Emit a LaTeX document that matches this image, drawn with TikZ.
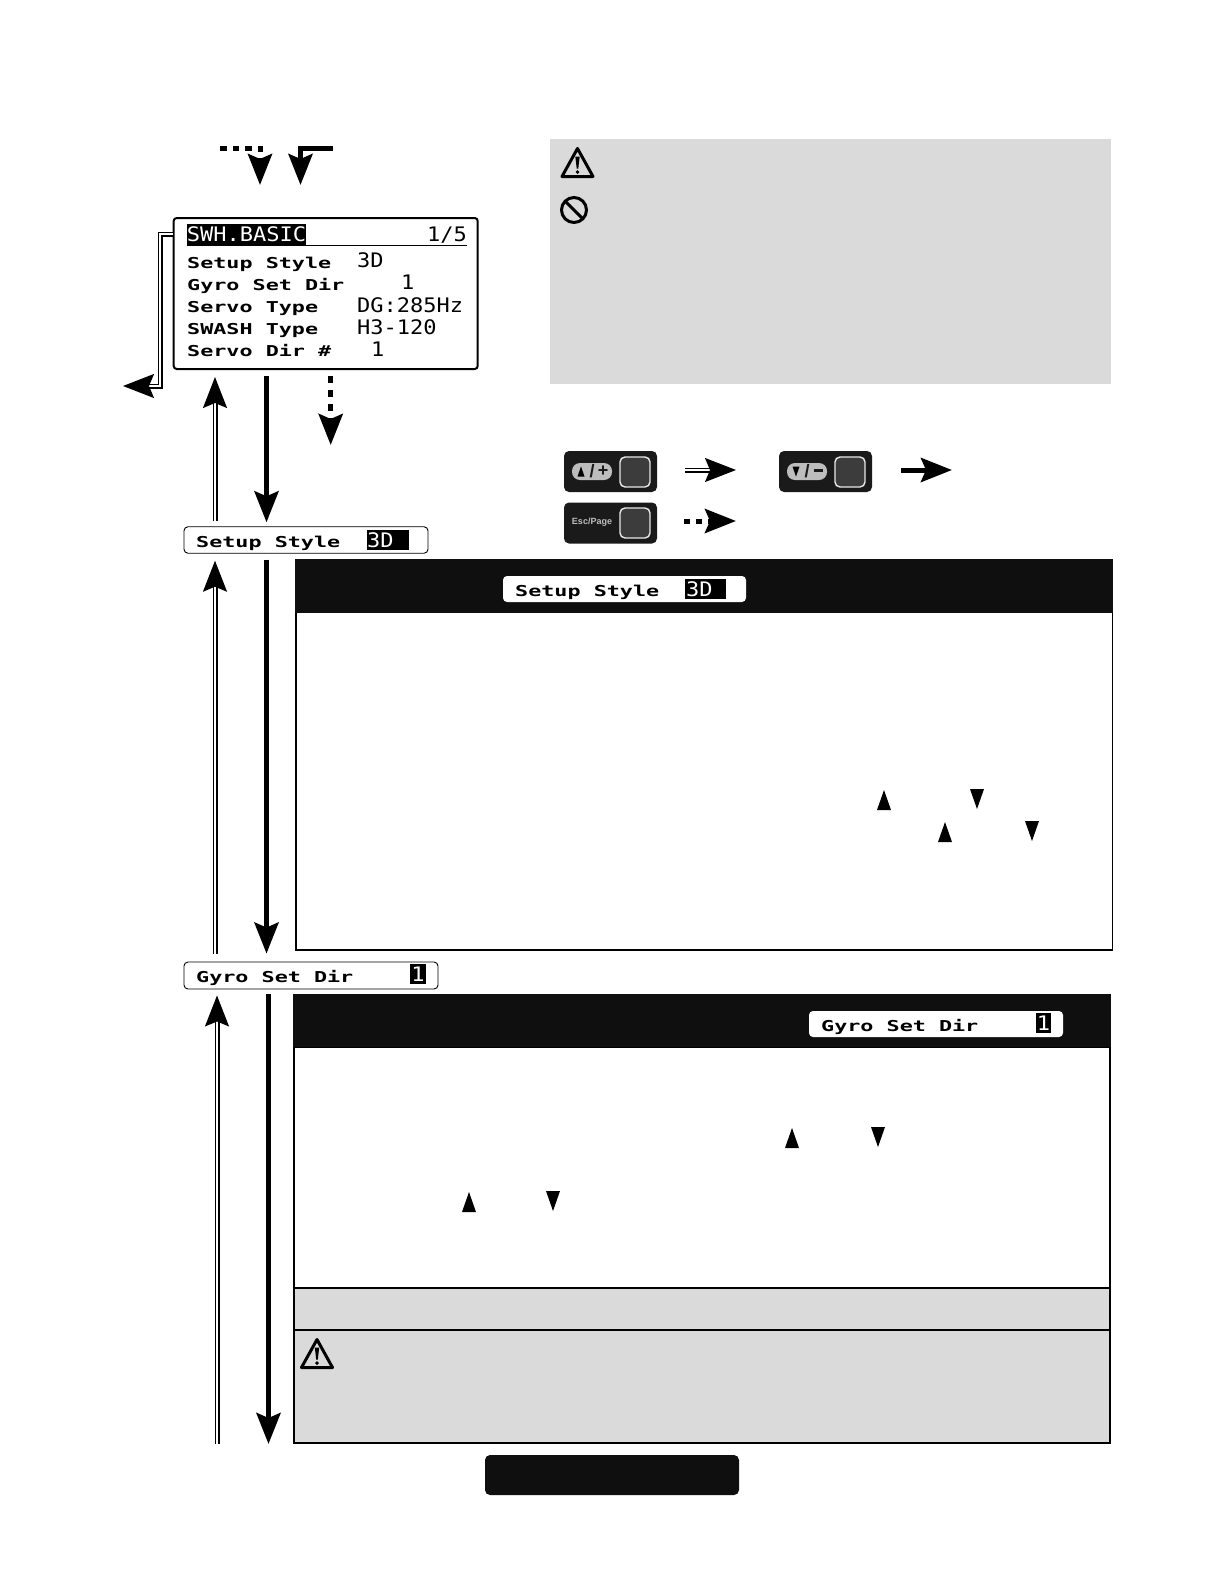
\documentclass[tikz,border=0pt]{standalone}
\usepackage{fontspec}
\usepackage{graphicx}
\setmainfont{Liberation Sans}
\newfontfamily\lcdfont{DejaVu Sans Mono}
\usetikzlibrary{positioning, arrows.meta}

\definecolor{panelblack}{HTML}{0F0F0F}
\definecolor{panelgray}{HTML}{DADADA}
\definecolor{keybody}{HTML}{1A1A1A}
\definecolor{keyface}{HTML}{3C3C3C}
\definecolor{keyedge}{HTML}{E8E8E8}
\definecolor{keypill}{HTML}{BDBDBD}

\newcommand{\lcdlabel}[1]{\scalebox{1.45}[1]{\lcdfont\bfseries\fontsize{15}{15}\selectfont #1}}
\newcommand{\lcdvalue}[1]{\scalebox{1.1}[1]{\lcdfont\fontsize{20}{20}\selectfont #1}}

\tikzset{
	>={Stealth[length=31pt,width=24pt,inset=5pt]},
	solidflow/.style={->, line width=5pt},
	doubleflow/.style={->, double, double distance=1.8pt, line width=1.6pt},
	dashflow/.style={->, line width=5pt, dash pattern=on 6.5pt off 7.5pt},
	lcdbox/.style={draw=black, fill=white, rounded corners=3pt, line width=2pt, inner sep=0pt},
	stripbox/.style={draw=black, fill=white, rounded corners=4pt, line width=0.9pt, inner sep=0pt},
	headerstrip/.style={fill=white, rounded corners=4pt, inner sep=0pt},
	lcdhigh/.style={fill=black, text=white, inner sep=0pt},
	lcdtext/.style={anchor=base west, inner sep=0pt},
	keycap/.style={fill=keybody, rounded corners=5pt, inner sep=0pt, minimum width=93pt, minimum height=41pt},
	keyfacebox/.style={fill=keyface, draw=keyedge, line width=1.4pt, rounded corners=5pt, inner sep=0pt, minimum size=30pt},
	keypillbox/.style={fill=keypill, rounded corners=8pt, inner sep=0pt, minimum width=40pt, minimum height=17pt},
	keymark/.style={inner sep=0pt, text=keybody, font=\bfseries\fontsize{18}{18}\selectfont},
	triup/.pic={\fill[black] (-7,10) -- (0,-10) -- (7,10) -- cycle;},
	tridown/.pic={\fill[black] (-7,-10) -- (0,10) -- (7,-10) -- cycle;},
	warnicon/.pic={
		\draw[line width=3pt, line join=round] (0,-14) -- (15.5,14) -- (-15.5,14) -- cycle;
		\fill (-2.2,-6) -- (2.2,-6) -- (0.8,6) -- (-0.8,6) -- cycle;
		\fill (0,9.6) circle (1.9);
	},
	stopicon/.pic={
		\draw[line width=3pt] (0,0) circle (12.5);
		\draw[line width=3pt] (-8.8,-8.8) -- (8.8,8.8);
	},
}

\begin{document}
\begin{tikzpicture}[x=1pt,y=-1pt]
	\useasboundingbox (0,0) rectangle (1224,1584);

	% --- Free ends of the connectors ---
	\coordinate (entrydash) at (220,148);
	\coordinate (entrydashtip) at (260,185);
	\coordinate (entrysolid) at (333,148);
	\coordinate (entrysolidtip) at (300.5,185);
	\coordinate (exitdouble) at (123,386);
	\coordinate (exitdash) at (330.7,445);
	\coordinate (columnup) at (215,0);
	\coordinate (columndown) at (266.5,0);
	\coordinate (endup) at (217,1444);
	\coordinate (enddown) at (268.5,1444);
	\coordinate (legendplus) at (736,470);
	\coordinate (legendminus) at (952,470);
	\coordinate (legendesc) at (736,521);

	% --- Gray note panel ---
	\fill[panelgray] (550,139) rectangle (1111,384);
	\pic at (577.5,162.5) {warnicon};
	\pic at (574,210) {stopicon};

	% --- Main LCD screen ---
	\node[lcdbox, minimum width=304pt, minimum height=151pt] (screen) at (325.7,293.5) {};
	\node[lcdhigh, minimum width=119pt, minimum height=21pt] (screentitle) at (246.5,234.5) {\lcdvalue{SWH.BASIC}};
	\node[inner sep=0pt, anchor=base east] (screenpage) at (467,241) {\lcdvalue{1/5}};
	\draw[line width=1.4pt] (screentitle.south west) -- (screentitle.south west -| screenpage.east);
	\node[lcdtext] (rowstyle) at (187,268) {\lcdlabel{Setup Style}};
	\node[lcdtext] (rowgyro) at (187,290) {\lcdlabel{Gyro Set Dir}};
	\node[lcdtext] (rowservo) at (187,312) {\lcdlabel{Servo Type}};
	\node[lcdtext] (rowswash) at (187,334) {\lcdlabel{SWASH Type}};
	\node[lcdtext] (rowdir) at (187,356) {\lcdlabel{Servo Dir \#}};
	\node[lcdtext] (valstyle) at (357,267) {\lcdvalue{3D}};
	\node[lcdtext] (valgyro) at (401,289) {\lcdvalue{1}};
	\node[lcdtext] (valservo) at (357,312) {\lcdvalue{DG:285Hz}};
	\node[lcdtext] (valswash) at (357,334) {\lcdvalue{H3-120}};
	\node[lcdtext] (valdir) at (371,356) {\lcdvalue{1}};

	% --- Setup Style strip ---
	\node[stripbox, minimum width=244pt, minimum height=26.5pt] (stylestrip) at (306,540) {};
	\node[lcdtext] (stylelabel) at (196,547) {\lcdlabel{Setup Style}};
	\node[lcdhigh, minimum width=42pt, minimum height=20pt] (stylehigh) at (387.5,540) {};
	\node[lcdtext, text=white] (stylevalue) at (367,547) {\lcdvalue{3D}};

	% --- Gyro Set Dir strip ---
	\node[stripbox, minimum width=254pt, minimum height=27pt] (gyrostrip) at (311,975.5) {};
	\node[lcdtext] (gyrolabel) at (196,982) {\lcdlabel{Gyro Set Dir}};
	\node[lcdhigh, minimum width=16pt, minimum height=20pt] (gyrohigh) at (418,974) {\lcdvalue{1}};

	% --- Flow arrows ---
	\draw[dashflow, dash pattern=on 6.5pt off 6pt] (entrydash) -| (entrydashtip);
	\draw[solidflow] (entrysolid) -| (entrysolidtip);
	\draw[doubleflow] (screen.west |- 0,234) -- (160,234) |- (exitdouble);
	\draw[dashflow, shorten <=6pt] (screen.south -| exitdash) -- (exitdash);
	\draw[solidflow, shorten <=6pt, shorten >=4pt] (screen.south -| columndown) -- (stylestrip.north -| columndown);
	\draw[doubleflow, shorten <=5pt, shorten >=7pt] (stylestrip.north -| columnup) -- (screen.south -| columnup);
	\draw[solidflow, shorten <=6pt, shorten >=8pt] (stylestrip.south -| columndown) -- (gyrostrip.north -| columndown);
	\draw[doubleflow, shorten <=8pt, shorten >=7pt] (gyrostrip.north -| columnup) -- (stylestrip.south -| columnup);
	\draw[solidflow, shorten <=5pt] (gyrostrip.south -| enddown) -- (enddown);
	\draw[doubleflow, shorten >=6pt] (endup) -- (gyrostrip.south -| endup);

	% --- Key legend ---
	\node[keycap] (keyplus) at (610.5,471.5) {};
	\node[keyfacebox] (keyplusface) at (635,472) {};
	\node[keypillbox] (keypluspill) at (592,471.5) {};
	\pic[scale=0.5] at (581,471.5) {triup};
	\node[keymark] (keyplusslash) at (592,471) {/};
	\node[keymark] (keyplusmark) at (603,471) {+};

	\node[keycap] (keyminus) at (825.5,471.5) {};
	\node[keyfacebox] (keyminusface) at (850,472) {};
	\node[keypillbox] (keyminuspill) at (807,471.5) {};
	\pic[scale=0.5] at (796,471.5) {tridown};
	\node[keymark] (keyminusslash) at (807,471) {/};
	\node[keymark] (keyminusmark) at (818,471) {\raisebox{1pt}{\rule{9pt}{2.2pt}}};

	\node[keycap] (keyesc) at (610.5,523) {};
	\node[keyfacebox] (keyescface) at (635,523) {};
	\node[inner sep=0pt, text=keypill, font=\bfseries\fontsize{9}{9}\selectfont] (keyesclabel) at (592,522.5) {Esc/Page};

	\draw[doubleflow, shorten <=28pt] (keyplus.east |- legendplus) -- (legendplus);
	\draw[solidflow, shorten <=29pt] (keyminus.east |- legendminus) -- (legendminus);
	\draw[dashflow, dash pattern=on 6pt off 6pt, shorten <=27pt] (keyesc.east |- legendesc) -- (legendesc);

	% --- Setup Style panel ---
	\fill[white] (296,613) rectangle (1112,950);
	\draw[line width=2pt] (296,613) -- (296,950) -- (1112.5,950);
	\draw[line width=1.2pt] (1112.5,613) -- (1112.5,950);
	\fill[panelblack] (295,558.5) rectangle (1113,613);
	\node[headerstrip, minimum width=243pt, minimum height=26pt] (stylehead) at (624.5,589) {};
	\node[lcdtext] (styleheadlabel) at (515,596) {\lcdlabel{Setup Style}};
	\node[lcdhigh, minimum width=41pt, minimum height=20pt] (styleheadhigh) at (705.5,589) {};
	\node[lcdtext, text=white] (styleheadvalue) at (686,596) {\lcdvalue{3D}};
	\pic at (884,800) {triup};
	\pic at (977,799) {tridown};
	\pic at (945,832) {triup};
	\pic at (1032,831) {tridown};

	% --- Gyro Set Dir panel ---
	\fill[panelgray] (294,1288) rectangle (1110,1443);
	\draw[line width=2pt] (294,1047) rectangle (1110,1443);
	\draw[line width=2pt] (294,1288) -- (1110,1288);
	\draw[line width=2pt] (294,1330) -- (1110,1330);
	\fill[panelblack] (293,994) rectangle (1111,1047);
	\node[headerstrip, minimum width=254pt, minimum height=26pt] (gyrohead) at (936,1024) {};
	\node[lcdtext] (gyroheadlabel) at (821,1031) {\lcdlabel{Gyro Set Dir}};
	\node[lcdhigh, minimum width=15pt, minimum height=20pt] (gyroheadhigh) at (1043.5,1023) {\lcdvalue{1}};
	\pic at (792,1138) {triup};
	\pic at (878,1137) {tridown};
	\pic at (469,1202) {triup};
	\pic at (553,1201) {tridown};
	\pic at (317,1353.5) {warnicon};

	% --- Footer bar ---
	\fill[panelblack, rounded corners=5pt] (485,1455) rectangle (739,1495);
\end{tikzpicture}
\end{document}
